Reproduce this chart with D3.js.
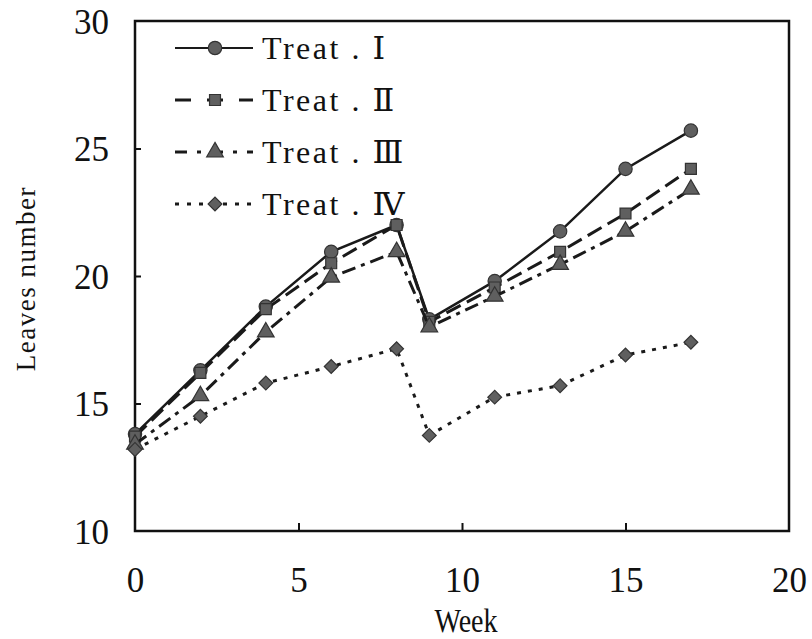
<!DOCTYPE html>
<html>
<head>
  <title>Leaves number</title>
  <script src="https://d3js.org/d3.v7.min.js"></script>
  <style>
    body { margin: 0; background: #fff; }
    text { font-family: "Liberation Serif", "DejaVu Serif", serif; fill: #111; }
  </style>
</head>
<body>
<script type="text/javascript">

// ****** DATA ******

  var weeks = [0, 2, 4, 6, 8, 9, 11, 13, 15, 17];
  var treat1 = [13.8, 16.3, 18.8, 20.95, 22.0, 18.3, 19.8, 21.75, 24.2, 25.7];
  var treat2 = [13.7, 16.2, 18.7, 20.5, 22.0, 18.2, 19.55, 20.95, 22.45, 24.2];
  var treat3 = [13.4, 15.3, 17.8, 19.95, 20.95, 18.0, 19.2, 20.45, 21.75, 23.4];
  var treat4 = [13.2, 14.5, 15.8, 16.45, 17.15, 13.75, 15.25, 15.7, 16.9, 17.4];
  var seriesNames = ["Treat . \u2160", "Treat . \u2161", "Treat . \u2162", "Treat . \u2163"];
  var xTicks = [0, 5, 10, 15, 20];
  var yTicks = [10, 15, 20, 25, 30];

// ****** SETUP ******

  var width = 812,
      height = 639;
  // plot box edges (window.top is taken, so these get a prefix)
  var plotLeft = 135, plotRight = 789, plotTop = 21, plotBottom = 531;

  var x = d3.scaleLinear().domain([0, 20]).range([plotLeft, plotRight]);
  var y = d3.scaleLinear().domain([10, 30]).range([plotBottom, plotTop]);

  var svg = d3.select("body")
    .append("svg")
    .attr("width", width)
    .attr("height", height);

  // line styles and marker shapes for the four treatments
  var dashes = ["none", "16,7", "14,6,4,6", "4,7"];
  // the diamond is a square turned by 45 degrees, like the original
  var symbols = [d3.symbolCircle, d3.symbolSquare, d3.symbolTriangle, d3.symbolSquare];
  var symbolSizes = [140, 120, 120, 95];
  var symbolTurn = [0, 0, 0, 45];
  var allSeries = [treat1, treat2, treat3, treat4];

// ****** AXES ******

  var xAxis = d3.axisBottom(x).tickValues(xTicks).tickSize(-8).tickPadding(29).tickFormat(d3.format("d"));
  var yAxis = d3.axisLeft(y).tickValues(yTicks).tickSize(-6).tickPadding(26).tickFormat(d3.format("d"));

  var gx = svg.append("g")
    .attr("transform", "translate(0," + plotBottom + ")")
    .call(xAxis);
  var gy = svg.append("g")
    .attr("transform", "translate(" + plotLeft + ",0)")
    .call(yAxis);

  [gx, gy].forEach(function (g) {
    g.select(".domain").remove();
    g.selectAll(".tick line").attr("stroke", "#111").attr("stroke-width", 2);
    g.selectAll(".tick text")
      .style("font-size", "35px")
      .style("font-family", "'Liberation Serif', serif")
      .attr("fill", "#111");
  });
  // end ticks sit on the frame, hide them
  gx.selectAll(".tick").filter(function (d) { return d === 0 || d === 20; }).select("line").remove();
  gy.selectAll(".tick").filter(function (d) { return d === 10 || d === 30; }).select("line").remove();
  gx.selectAll(".tick text").attr("dy", "0.9em");
  gy.selectAll(".tick text").attr("dy", "0.35em");

  // frame round the plot
  svg.append("rect")
    .attr("x", plotLeft)
    .attr("y", plotTop)
    .attr("width", plotRight - plotLeft)
    .attr("height", plotBottom - plotTop)
    .attr("fill", "none")
    .attr("stroke", "#111")
    .attr("stroke-width", 2.5);

  svg.append("text")
    .attr("transform", "translate(" + (x(10) + 4) + ",632) scale(0.85,1)")
    .attr("text-anchor", "middle")
    .style("font-size", "33px")
    .text("Week");

  svg.append("text")
    .attr("transform", "translate(35," + y(19.9) + ") rotate(-90)")
    .attr("text-anchor", "middle")
    .style("font-size", "27px")
    .style("letter-spacing", "1.5px")
    .text("Leaves number");

// ****** LINES ******

  var line = d3.line()
    .x(function (d, i) { return x(weeks[i]); })
    .y(function (d) { return y(d); });

  allSeries.forEach(function (vals, s) {
    svg.append("path")
      .datum(vals)
      .attr("d", line)
      .attr("fill", "none")
      .attr("stroke", "#1a1a1a")
      .attr("stroke-width", s === 0 ? 2.5 : 3)
      .attr("stroke-dasharray", dashes[s]);

    svg.selectAll(".mark" + s)
      .data(vals)
      .enter()
      .append("path")
      .attr("class", "mark" + s)
      .attr("transform", function (d, i) {
        return "translate(" + x(weeks[i]) + "," + y(d) + ") rotate(" + symbolTurn[s] + ")";
      })
      .attr("d", d3.symbol().type(symbols[s]).size(symbolSizes[s]))
      .attr("fill", "#5f5f5f")
      .attr("stroke", "#333")
      .attr("stroke-width", 1.2);
  });

// ****** LEGEND ******

  var legend = svg.append("g");
  var rows = legend.selectAll("g")
    .data(seriesNames)
    .enter()
    .append("g")
    .attr("transform", function (d, i) { return "translate(175," + (48 + i * 52) + ")"; });

  rows.append("line")
    .attr("x1", 0)
    .attr("x2", 78)
    .attr("stroke", "#1a1a1a")
    .attr("stroke-width", function (d, i) { return i === 0 ? 2 : 3; })
    .attr("stroke-dasharray", function (d, i) { return ["none", "16,16", "12,10,4,10", "4,8"][i]; });

  rows.append("path")
    .attr("transform", function (d, i) { return "translate(40,0) rotate(" + symbolTurn[i] + ")"; })
    .attr("d", function (d, i) { return d3.symbol().type(symbols[i]).size(symbolSizes[i])(); })
    .attr("fill", "#5f5f5f")
    .attr("stroke", "#333")
    .attr("stroke-width", 1.2);

  rows.append("text")
    .attr("x", 87)
    .attr("dy", "0.35em")
    .style("font-size", "32px")
    .style("letter-spacing", "2.5px")
    .text(function (d) { return d; });

</script>
</body>
</html>
